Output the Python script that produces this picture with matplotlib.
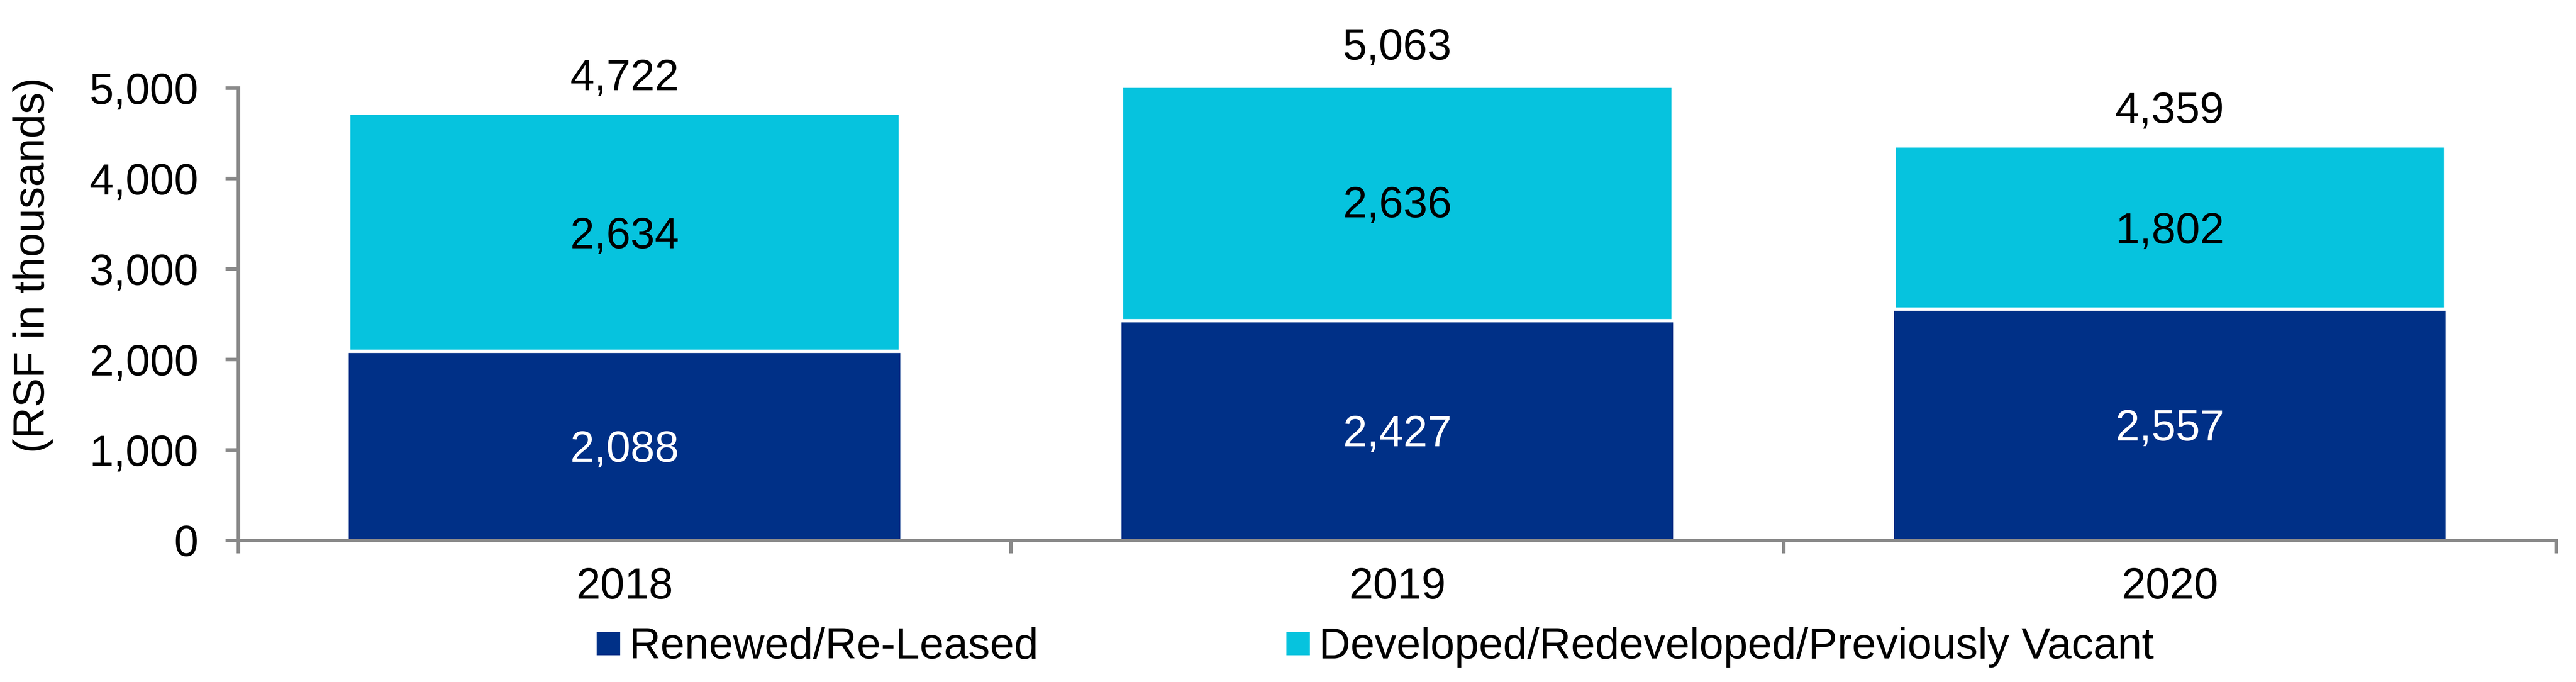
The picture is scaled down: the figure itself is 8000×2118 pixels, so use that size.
import matplotlib
matplotlib.use("Agg")
import matplotlib.pyplot as plt
from matplotlib.lines import Line2D
from matplotlib.ticker import FuncFormatter, FixedLocator

plt.rcParams['font.family'] = ['Liberation Sans', 'DejaVu Sans']

categories = ["2018", "2019", "2020"]
renewed = [2088, 2427, 2557]
developed = [2634, 2636, 1802]
totals = [4722, 5063, 4359]
series_names = ["Renewed/Re-Leased", "Developed/Redeveloped/Previously Vacant"]

NAVY = "#003087"
CYAN = "#06C3DE"
GREY = "#898989"
FS = 19.5

fig = plt.figure(figsize=(16, 4.236), dpi=500)
ax = fig.add_axes([0.0925, 0.2077, 0.8998, 0.6634])

x = list(range(len(categories)))
w = 0.714
ax.bar(x, renewed, width=w, color=NAVY, linewidth=0, zorder=2)
ax.bar(x, developed, width=w, bottom=renewed, color=CYAN, edgecolor="white",
       linewidth=1.5, zorder=3)

ax.set_xlim(-0.5, len(categories) - 0.5)
ax.set_ylim(0, 5000)
ax.set_yticks(range(0, 5001, 1000))
ax.yaxis.set_major_formatter(FuncFormatter(lambda v, p: f"{int(v):,}"))

# x: ticks at category boundaries, labels at centers
ax.xaxis.set_major_locator(FixedLocator([i - 0.5 for i in range(len(categories) + 1)]))
ax.xaxis.set_major_formatter(FuncFormatter(lambda v, p: ""))
ax.xaxis.set_minor_locator(FixedLocator(x))
ax.set_xticklabels(categories, minor=True)
ax.tick_params(axis='x', which='minor', length=0, pad=12, labelsize=FS)
ax.tick_params(axis='x', which='major', length=5.8, width=1.6, color=GREY, direction='out')
ax.tick_params(axis='y', which='major', length=5.8, width=1.6, color=GREY, direction='out',
               pad=12, labelsize=FS)

for s in ['top', 'right']:
    ax.spines[s].set_visible(False)
for s in ['left', 'bottom']:
    ax.spines[s].set_color(GREY)
    ax.spines[s].set_linewidth(1.6)
    ax.spines[s].set_zorder(4)

for i in x:
    ax.annotate(f"{renewed[i]:,}", xy=(i, renewed[i] / 2), xytext=(0, -2),
                textcoords='offset points', ha='center', va='center',
                color='white', fontsize=FS, zorder=5)
    ax.annotate(f"{developed[i]:,}", xy=(i, renewed[i] + developed[i] / 2),
                xytext=(0, -2), textcoords='offset points', ha='center',
                va='center', color='black', fontsize=FS, zorder=5)
    ax.annotate(f"{totals[i]:,}", xy=(i, totals[i]), xytext=(0, 15.3),
                textcoords='offset points', ha='center', va='center',
                fontsize=FS, color='black', annotation_clip=False)

fig.text(0.0128, 0.611, "(RSF in thousands)", rotation=90, ha='center', va='center',
         fontsize=FS)

handles = [Line2D([], [], linestyle='none', marker='s', markersize=9.6,
                  markerfacecolor=c, markeredgecolor=c) for c in (NAVY, CYAN)]
fig.legend(handles, series_names, loc='center', bbox_to_anchor=(0.534, 0.051),
           ncol=2, frameon=False, fontsize=FS, handlelength=0.5,
           handletextpad=0.23, columnspacing=5.7, borderpad=0)

fig.savefig("out.png", dpi=500)
